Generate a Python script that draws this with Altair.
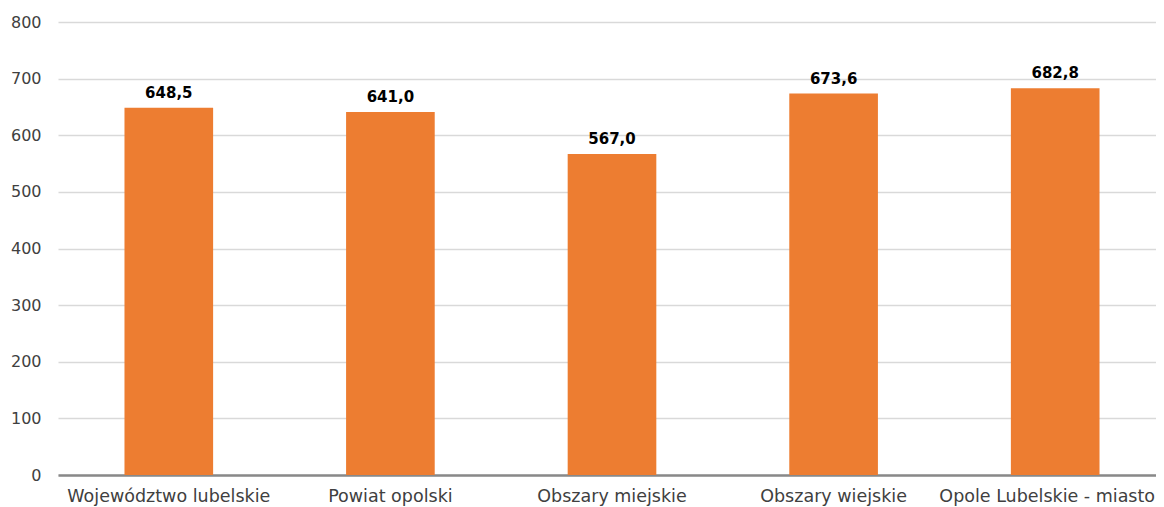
import altair as alt
import pandas as pd

categories = ["Województwo lubelskie", "Powiat opolski", "Obszary miejskie",
              "Obszary wiejskie", "Opole Lubelskie - miasto"]
values = [648.5, 641.0, 567.0, 673.6, 682.8]

df = pd.DataFrame({
    "cat": categories,
    "val": values,
    "lab": [f"{v:.1f}".replace(".", ",") for v in values],
})

FONT = "DejaVu Sans"

x = alt.X("cat:N", sort=categories, title=None,
          scale=alt.Scale(paddingInner=0.6, paddingOuter=0.3, range=[0, 1108]),
          axis=alt.Axis(labelAngle=0, labelFontSize=17.5, labelColor="#404040",
                        labelFont=FONT, labelPadding=12, ticks=False,
                        domainColor="#898989", domainWidth=2.5,
                        labelOverlap=False, labelLimit=400,
                        labelOffset={"condition": {"test": "datum.label == 'Opole Lubelskie - miasto'",
                                                   "value": -8}, "value": 0}))
y = alt.Y("val:Q", title=None,
          scale=alt.Scale(domain=[0, 800], nice=False),
          axis=alt.Axis(values=[0, 100, 200, 300, 400, 500, 600, 700, 800],
                        labelFontSize=16, labelColor="#404040", labelFont=FONT,
                        ticks=False, domain=False, labelPadding=17,
                        gridColor="#d9d9d9", gridWidth=1.5))

bars = alt.Chart(df).mark_bar(color="#ED7D31").encode(x=x, y=y)
text = alt.Chart(df).mark_text(baseline="bottom", dy=-7, fontSize=15,
                               fontWeight="bold", font=FONT, color="#000000").encode(
    x=alt.X("cat:N", sort=categories), y="val:Q", text="lab:N")

chart = (bars + text).properties(
    width=1098, height=453,
    autosize=alt.AutoSizeParams(type="none"),
    padding={"left": 50, "top": 14, "right": 0, "bottom": 34},
).configure_view(stroke=None)

chart.save("out.html", embed_options={"renderer": "svg", "actions": False})
